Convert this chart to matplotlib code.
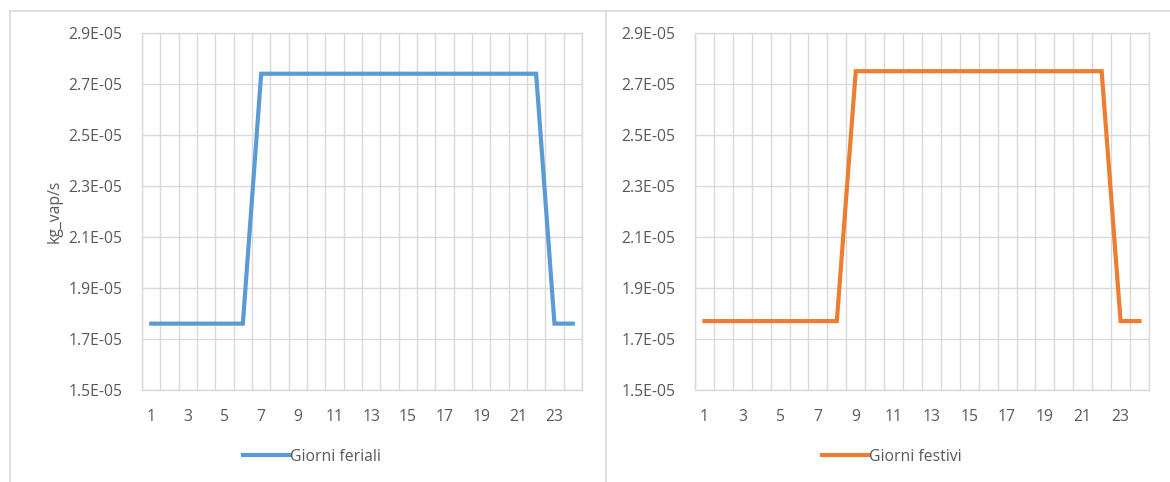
import matplotlib
matplotlib.use("Agg")
import matplotlib.pyplot as plt
from matplotlib.lines import Line2D
from matplotlib.ticker import FuncFormatter

# ore del giorno
ore = list(range(1, 25))

# portata di vapore (kg_vap/s)
feriali = [1.76e-05, 1.76e-05, 1.76e-05, 1.76e-05, 1.76e-05, 1.76e-05,
           2.74e-05, 2.74e-05, 2.74e-05, 2.74e-05, 2.74e-05, 2.74e-05,
           2.74e-05, 2.74e-05, 2.74e-05, 2.74e-05, 2.74e-05, 2.74e-05,
           2.74e-05, 2.74e-05, 2.74e-05, 2.74e-05, 1.76e-05, 1.76e-05]
festivi = [1.77e-05, 1.77e-05, 1.77e-05, 1.77e-05, 1.77e-05, 1.77e-05,
           1.77e-05, 1.77e-05, 2.75e-05, 2.75e-05, 2.75e-05, 2.75e-05,
           2.75e-05, 2.75e-05, 2.75e-05, 2.75e-05, 2.75e-05, 2.75e-05,
           2.75e-05, 2.75e-05, 2.75e-05, 2.75e-05, 1.77e-05, 1.77e-05]

y_ticks = [1.5e-05, 1.7e-05, 1.9e-05, 2.1e-05, 2.3e-05, 2.5e-05, 2.7e-05, 2.9e-05]

GRID = "#d9d9d9"
TXT = "#595959"
FS = 11.3
plt.rcParams['font.family'] = ['Open Sans', 'DejaVu Sans']

fig = plt.figure(figsize=(11.70, 4.82), dpi=100)

def pannello(rect, y, colore, etichetta, legx, ylabel=None):
    ax = fig.add_axes(rect)
    ax.plot(ore, y, color=colore, lw=3.0, solid_joinstyle='miter', label=etichetta)
    ax.set_xlim(0.5, 24.5)
    ax.set_ylim(y_ticks[0], y_ticks[-1])
    ax.set_yticks(y_ticks)
    ax.yaxis.set_major_formatter(FuncFormatter(lambda v, p: "%.1E" % v))
    ax.set_xticks(ore[::2])
    ax.set_xticks([h + 0.5 for h in range(0, 25)], minor=True)
    ax.tick_params(which='both', length=0, colors=TXT, labelsize=FS)
    ax.tick_params(axis='x', pad=14)
    ax.tick_params(axis='y', pad=14)
    ax.grid(axis='x', which='minor', color=GRID, lw=1)
    ax.grid(axis='y', which='major', color=GRID, lw=1)
    for s in ax.spines.values():
        s.set_color(GRID)
        s.set_linewidth(1)
    if ylabel:
        ax.set_ylabel(ylabel, color=TXT, fontsize=FS, labelpad=4)
    fig.legend(handles=[Line2D([], [], color=colore, lw=3.0)], labels=[etichetta],
               loc='center', bbox_to_anchor=(legx, 0.052), frameon=False,
               handlelength=3.0, handletextpad=0.0, fontsize=FS, labelcolor=TXT)
    return ax

pannello([0.1214, 0.191, 0.376, 0.7407], feriali, "#5b9bd5", "Giorni feriali", 0.267, "kg_vap/s")
pannello([0.594, 0.191, 0.388, 0.7407], festivi, "#ed7d31", "Giorni festivi", 0.762)

# cornici dei due grafici
for x0, x1, y0, y1 in [(0.0085, 1.0, 0.977, 0.977), (0.0085, 0.0085, 0.0, 0.977),
                       (0.518, 0.518, 0.0, 0.977)]:
    fig.add_artist(Line2D([x0, x1], [y0, y1], color=GRID, lw=1.2, transform=fig.transFigure))

fig.savefig("out.png", dpi=100, facecolor="white")
